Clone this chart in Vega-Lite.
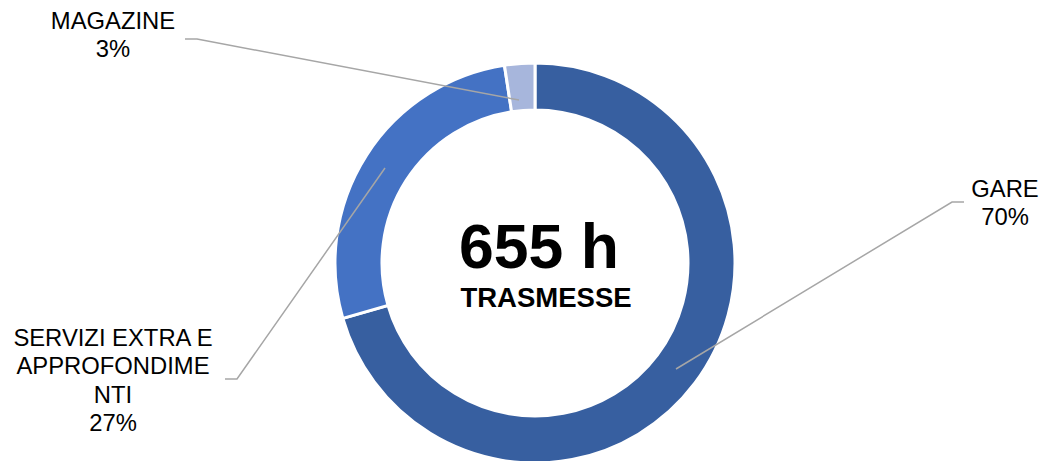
{
  "$schema": "https://vega.github.io/schema/vega-lite/v6.json",
  "width": 1043,
  "height": 461,
  "autosize": {"type": "none"},
  "padding": 0,
  "background": "white",
  "config": {"view": {"stroke": null}, "font": "Liberation Sans"},
  "datasets": {
    "slices": [
      {"category": "GARE", "hours": 462, "order": 1},
      {"category": "SERVIZI EXTRA E APPROFONDIMENTI", "hours": 177, "order": 2},
      {"category": "MAGAZINE", "hours": 16, "order": 3}
    ],
    "leaders": [
      {"slice": "MAGAZINE", "step": 1, "x": -350, "y": 224},
      {"slice": "MAGAZINE", "step": 2, "x": -338, "y": 224},
      {"slice": "MAGAZINE", "step": 3, "x": -16, "y": 163},
      {"slice": "GARE", "step": 1, "x": 429, "y": 61},
      {"slice": "GARE", "step": 2, "x": 417, "y": 61},
      {"slice": "GARE", "step": 3, "x": 141, "y": -106},
      {"slice": "SERVIZI", "step": 1, "x": -310, "y": -116},
      {"slice": "SERVIZI", "step": 2, "x": -298, "y": -116},
      {"slice": "SERVIZI", "step": 3, "x": -150, "y": 95}
    ],
    "labels": [
      {"text": "MAGAZINE\n3%", "x": -422, "y": 241},
      {"text": "GARE\n70%", "x": 470, "y": 73},
      {"text": "SERVIZI EXTRA E\nAPPROFONDIME\nNTI\n27%", "x": -422, "y": -76}
    ],
    "center": [
      {"text": "655 h", "x": 4, "y": -5, "kind": "big"},
      {"text": "TRASMESSE", "x": 11, "y": -44, "kind": "small"}
    ]
  },
  "layer": [
    {
      "data": {"name": "slices"},
      "mark": {"type": "arc", "outerRadius": 200, "innerRadius": 153, "stroke": "white", "strokeWidth": 3},
      "encoding": {
        "theta": {"field": "hours", "type": "quantitative", "stack": true},
        "order": {"field": "order", "type": "quantitative"},
        "color": {
          "field": "category",
          "type": "nominal",
          "scale": {
            "domain": ["GARE", "SERVIZI EXTRA E APPROFONDIMENTI", "MAGAZINE"],
            "range": ["#375FA0", "#4472C4", "#A7B6DC"]
          },
          "legend": null
        },
        "x": {"datum": 0, "type": "quantitative", "scale": {"domain": [-535, 508], "nice": false, "zero": false}, "axis": null},
        "y": {"datum": 0, "type": "quantitative", "scale": {"domain": [-198, 263], "nice": false, "zero": false}, "axis": null}
      }
    },
    {
      "data": {"name": "leaders"},
      "mark": {"type": "line", "color": "#A6A6A6", "strokeWidth": 1.5},
      "encoding": {
        "x": {"field": "x", "type": "quantitative"},
        "y": {"field": "y", "type": "quantitative"},
        "detail": {"field": "slice"},
        "order": {"field": "step", "type": "quantitative"}
      }
    },
    {
      "data": {"name": "labels"},
      "mark": {"type": "text", "fontSize": 23.8, "lineBreak": "\n", "lineHeight": 28.3, "align": "center", "baseline": "middle", "color": "#000000"},
      "encoding": {
        "x": {"field": "x", "type": "quantitative"},
        "y": {"field": "y", "type": "quantitative"},
        "text": {"field": "text"}
      }
    },
    {
      "data": {"name": "center"},
      "transform": [{"filter": "datum.kind === 'big'"}],
      "mark": {"type": "text", "fontSize": 62.5, "fontWeight": "bold", "align": "center", "baseline": "alphabetic", "color": "#000000"},
      "encoding": {
        "x": {"field": "x", "type": "quantitative"},
        "y": {"field": "y", "type": "quantitative"},
        "text": {"field": "text"}
      }
    },
    {
      "data": {"name": "center"},
      "transform": [{"filter": "datum.kind === 'small'"}],
      "mark": {"type": "text", "fontSize": 27.5, "fontWeight": "bold", "align": "center", "baseline": "alphabetic", "color": "#000000"},
      "encoding": {
        "x": {"field": "x", "type": "quantitative"},
        "y": {"field": "y", "type": "quantitative"},
        "text": {"field": "text"}
      }
    }
  ]
}
